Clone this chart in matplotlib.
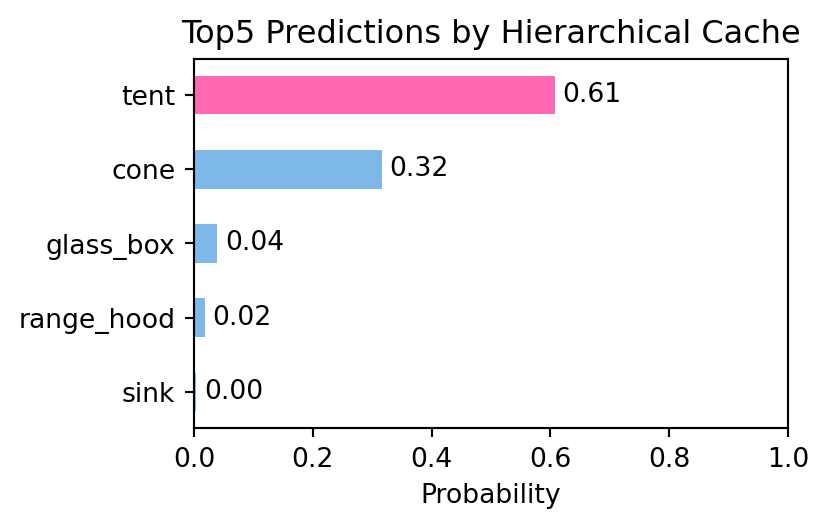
import matplotlib
matplotlib.use("Agg")
import matplotlib.pyplot as plt

classes = ["tent", "cone", "glass_box", "range_hood", "sink"]
probs = [0.607, 0.316, 0.039, 0.018, 0.003]
colores = ["#FF69B4", "#7DB8E8", "#7DB8E8", "#7DB8E8", "#7DB8E8"]

DPI = 192
fig = plt.figure(figsize=(829 / DPI, 528 / DPI), dpi=DPI)
ax = fig.add_axes([194 / 829, 1 - 428 / 528, 594 / 829, 369 / 528])

y = list(range(len(classes)))[::-1]
bars = ax.barh(y, probs, height=0.52, color=colores)
ax.set_yticks(y)
ax.set_yticklabels(classes)
ax.set_xlim(0, 1)
ax.set_xlabel("Probability")
ax.set_title("Top5 Predictions by Hierarchical Cache")

for bar, v in zip(bars, probs):
    ax.annotate(f"{v:.2f}", xy=(bar.get_width(), bar.get_y() + bar.get_height() / 2),
                xytext=(3, 0), textcoords="offset points", va="center", ha="left")

fig.savefig("out.png", dpi=DPI)
